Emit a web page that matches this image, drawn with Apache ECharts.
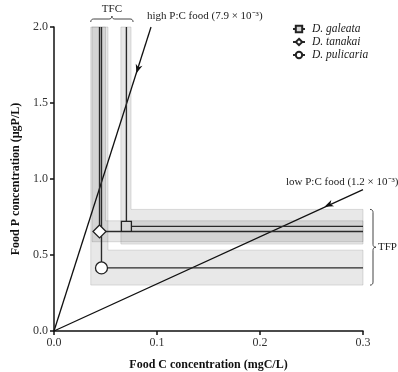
<!DOCTYPE html>
<html><head><meta charset="utf-8">
<script src="https://cdn.jsdelivr.net/npm/echarts@6/dist/echarts.min.js"></script>
<style>html,body{margin:0;padding:0;background:#fff}#c{width:398px;height:372px}</style>
</head><body><div id="c"></div>
<script>
// ---- data ----
const species = ['D. galeata', 'D. tanakai', 'D. pulicaria'];
const symbols = ['rect', 'diamond', 'circle'];
const tfcValues = [0.0703, 0.0442, 0.0461];
const tfcLow = [0.0649, 0.0369, 0.0357];
const tfcHigh = [0.0748, 0.0500, 0.0524];
const tfpValues = [0.688, 0.655, 0.415];
const tfpLow = [0.572, 0.587, 0.302];
const tfpHigh = [0.800, 0.725, 0.532];
const highPC = [[0, 0], [0.0942, 2.0]];
const lowPC = [[0, 0], [0.3, 0.93]];
const highArrowTip = [0.080, 1.695];
const lowArrowTip = [0.2626, 0.817];
const xTicks = [0.0, 0.1, 0.2, 0.3];
const yTicks = [0.0, 0.5, 1.0, 1.5, 2.0];
const highLabel = 'high P:C food (7.9 × 10⁻³)';
const lowLabel = 'low P:C food (1.2 × 10⁻³)';

const X_MAX = xTicks[xTicks.length - 1];
const Y_MAX = yTicks[yTicks.length - 1];
const FONT = 'Liberation Serif';

const chart = echarts.init(document.getElementById('c'), null, {renderer: 'canvas'});

const bandData = species.map((s, i) => [tfcLow[i], tfcHigh[i], tfpLow[i], tfpHigh[i]]);

const speciesSeries = species.map((s, i) => ({
  name: s,
  type: 'line',
  z: 5,
  symbol: symbols[i],
  symbolSize: i === 0 ? 10 : (i === 1 ? 13 : 12),
  itemStyle: {color: i === 0 ? '#d6d6d6' : '#fff', borderColor: '#222', borderWidth: 1.3},
  lineStyle: {color: '#2a2a2a', width: 1.4},
  emphasis: {disabled: true},
  animation: false,
  data: [
    {value: [X_MAX, tfpValues[i]], symbol: 'none'},
    {value: [tfcValues[i], tfpValues[i]]},
    {value: [tfcValues[i], Y_MAX], symbol: 'none'}
  ]
}));

const option = {
  animation: false,
  textStyle: {fontFamily: FONT},
  grid: {left: 54, top: 27, right: 35, bottom: 41, containLabel: false, outerBoundsMode: 'none'},
  legend: {
    data: species.map(s => ({name: s})),
    orient: 'vertical',
    left: 292, top: 23, padding: 0,
    itemWidth: 12, itemHeight: 8, itemGap: 1,
    textStyle: {fontFamily: FONT, fontStyle: 'italic', fontSize: 11.5, color: '#222', lineHeight: 12, padding: [0, 0, 0, 2]},
    selectedMode: false
  },
  xAxis: {
    type: 'value', min: xTicks[0], max: X_MAX, interval: 0.1,
    name: 'Food C concentration (mgC/L)', nameLocation: 'middle', nameGap: 28,
    nameTextStyle: {fontFamily: FONT, fontWeight: 'bold', fontSize: 12, color: '#111'},
    axisLine: {lineStyle: {color: '#111', width: 1.5}},
    axisTick: {length: 4, lineStyle: {color: '#111', width: 1.5}},
    axisLabel: {fontFamily: FONT, fontSize: 12, color: '#333', margin: 6, formatter: v => v.toFixed(1)},
    splitLine: {show: false}
  },
  yAxis: {
    type: 'value', min: yTicks[0], max: Y_MAX, interval: 0.5,
    name: 'Food P concentration (µgP/L)', nameLocation: 'middle', nameGap: 27,
    nameTextStyle: {fontFamily: FONT, fontWeight: 'bold', fontSize: 12, color: '#111'},
    axisLine: {show: true, lineStyle: {color: '#111', width: 1.5}},
    axisTick: {show: true, length: 4, lineStyle: {color: '#111', width: 1.5}},
    axisLabel: {fontFamily: FONT, fontSize: 12, color: '#333', margin: 6, formatter: v => v.toFixed(1)},
    splitLine: {show: false}
  },
  series: [
    {
      name: 'bands', type: 'custom', z: 1, silent: true,
      encode: {x: [0, 1], y: [2, 3]},
      data: bandData,
      renderItem: (params, api) => {
        const lo = api.value(0), hi = api.value(1), plo = api.value(2), phi = api.value(3);
        const pts = [[lo, Y_MAX], [hi, Y_MAX], [hi, phi], [X_MAX, phi], [X_MAX, plo], [lo, plo]].map(p => api.coord(p));
        return {type: 'polygon', shape: {points: pts},
          style: {fill: 'rgba(0,0,0,0.09)', stroke: 'rgba(0,0,0,0.13)', lineWidth: 1}};
      }
    },
    {
      name: 'highPC', type: 'line', z: 3, silent: true, symbol: 'none',
      lineStyle: {color: '#111', width: 1.3}, data: highPC
    },
    {
      name: 'lowPC', type: 'line', z: 3, silent: true, symbol: 'none',
      lineStyle: {color: '#111', width: 1.3}, data: lowPC
    },
    ...speciesSeries
  ]
};
chart.setOption(option);

// annotations positioned from data coordinates
const px = p => chart.convertToPixel({gridIndex: 0}, p);
const tfcL = px([Math.min(...tfcLow), Y_MAX])[0];
const tfcR = px([Math.max(...tfcHigh), Y_MAX])[0] + 2;
const yTop = px([0, Y_MAX])[1];
const tfpT = px([X_MAX, Math.max(...tfpHigh)])[1];
const tfpB = px([X_MAX, Math.min(...tfpLow)])[1];
const xRight = px([X_MAX, 0])[0];
const hiEnd = px(highPC[1]);
const loEnd = px(lowPC[1]);

function quad(p0, c, p1, n) {
  const out = [];
  for (let k = 0; k <= n; k++) {
    const t = k / n, u = 1 - t;
    out.push([u * u * p0[0] + 2 * u * t * c[0] + t * t * p1[0], u * u * p0[1] + 2 * u * t * c[1] + t * t * p1[1]]);
  }
  return out;
}
function hBrace(x1, x2, y0) {
  const xm = (x1 + x2) / 2, r = 3;
  return [].concat(
    quad([x1, y0], [x1, y0 - r], [x1 + r, y0 - r], 5),
    quad([xm - r, y0 - r], [xm, y0 - r], [xm, y0 - 2 * r], 5),
    quad([xm, y0 - 2 * r], [xm, y0 - r], [xm + r, y0 - r], 5),
    quad([x2 - r, y0 - r], [x2, y0 - r], [x2, y0], 5)
  );
}
function vBrace(y1, y2, x0) {
  const ym = (y1 + y2) / 2, r = 3;
  return [].concat(
    quad([x0, y1], [x0 + r, y1], [x0 + r, y1 + r], 5),
    quad([x0 + r, ym - r], [x0 + r, ym], [x0 + 2 * r, ym], 5),
    quad([x0 + 2 * r, ym], [x0 + r, ym], [x0 + r, ym + r], 5),
    quad([x0 + r, y2 - r], [x0 + r, y2], [x0, y2], 5)
  );
}
function arrowHead(fromData, tipData, len, halfW) {
  const a = px(fromData), b = px(tipData);
  const dx = b[0] - a[0], dy = b[1] - a[1], d = Math.hypot(dx, dy);
  const ux = dx / d, uy = dy / d, nx = -uy, ny = ux;
  const bx = b[0] - ux * len, by = b[1] - uy * len;
  return {type: 'polygon', silent: true, z: 10,
    shape: {points: [[b[0], b[1]], [bx + nx * halfW, by + ny * halfW], [bx + ux * 2.5, by + uy * 2.5], [bx - nx * halfW, by - ny * halfW]]},
    style: {fill: '#111'}};
}

const txt = (x, y, text, align) => ({
  type: 'text', x: x, y: y, silent: true, z: 10,
  style: {text: text, fontFamily: FONT, fontSize: 11, fill: '#222', align: align, verticalAlign: 'middle'}
});

chart.setOption({
  graphic: [
    {type: 'polyline', silent: true, z: 10, shape: {points: hBrace(tfcL, tfcR, yTop - 5)}, style: {stroke: '#444', fill: null, lineWidth: 1}},
    txt((tfcL + tfcR) / 2, yTop - 18, 'TFC', 'center'),
    {type: 'polyline', silent: true, z: 10, shape: {points: vBrace(tfpT, tfpB, xRight + 7)}, style: {stroke: '#444', fill: null, lineWidth: 1}},
    txt(xRight + 15, (tfpT + tfpB) / 2, 'TFP', 'left'),
    txt(hiEnd[0] - 4, hiEnd[1] - 11, highLabel, 'left'),
    txt(loEnd[0] - 77, loEnd[1] - 8, lowLabel, 'left'),
    arrowHead(highPC[1], highArrowTip, 9, 3.5),
    arrowHead(lowPC[1], lowArrowTip, 9, 3.5)
  ]
});
</script>
</body></html>
